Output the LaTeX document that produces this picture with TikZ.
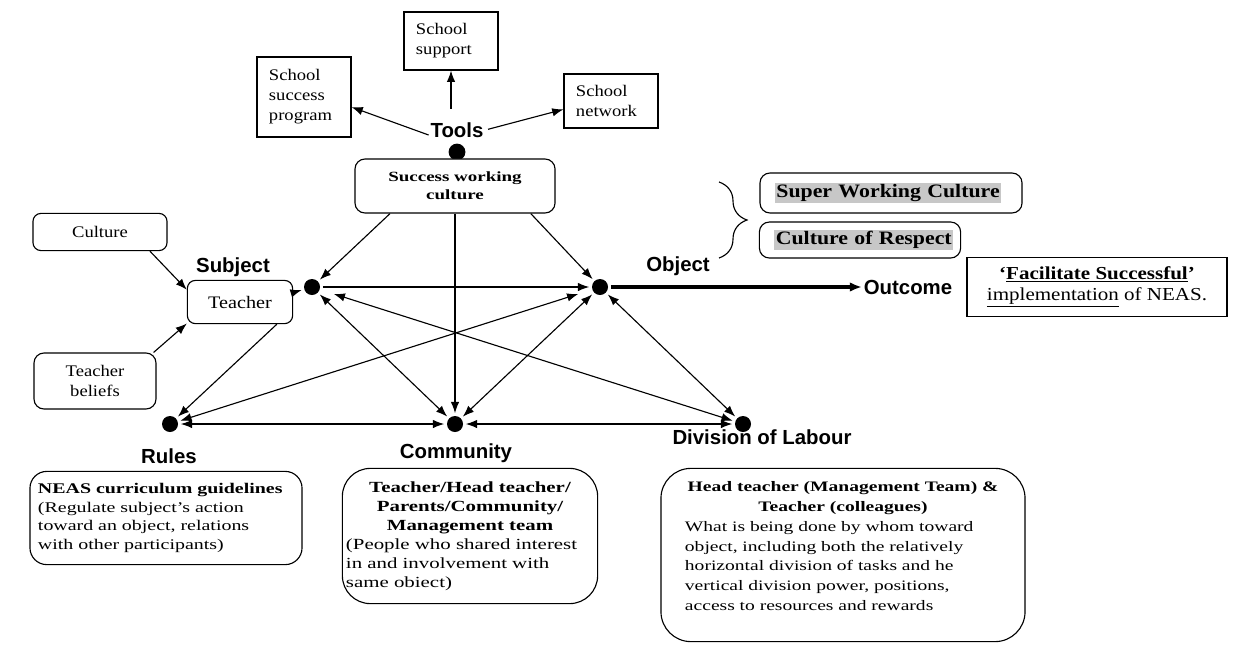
\documentclass[tikz,border=0pt]{standalone}
\usepackage{fontspec}
\setmainfont{Liberation Serif}[FakeStretch=1.15]
\setsansfont{Liberation Sans}
\newfontfamily\widefont{Liberation Serif}[FakeStretch=1.35]
\usetikzlibrary{arrows.meta,decorations.pathreplacing}

\begin{document}
\begin{tikzpicture}[x=0.025cm, y=-0.025cm,
line width=0.8pt,
>={Latex[length=0.28cm,width=0.21cm]},
    B/.style = {rectangle, draw, rounded corners=0.25cm, fill=white},% rounded boxes
    Q/.style = {rectangle, draw, fill=white},% square boxes
    P/.style = {Q, text width=1.75cm, inner xsep=0.3cm, align=left,
                font=\fontsize{11.5}{14.2}\selectfont},% tool boxes on top
    L/.style = {font=\sffamily\bfseries\fontsize{14.5}{16}\selectfont,
                inner sep=1pt},% names of the corners
    D/.style = {circle, fill, inner sep=0pt, minimum size=0.4cm,
                outer sep=2pt},% dots of the triangle
                        ]
\useasboundingbox (0,0) rectangle (1256,645);
%% dots
\foreach \n/\x/\y in {S/312/287, O/600/287, R/170/424, C/455/424, D/743/424}% <-- corners
    \node[D] (\n) at (\x,\y) {};
\node[D, minimum size=0.42cm] (TD) at (457,152) {};
%% tools
\node[L] (T) at (457,130) {Tools};
\node[P, minimum height=2cm] (SSP) at (304,97) {School\\success\\program};
\node[P, minimum height=1.45cm] (SS) at (451,41) {School\\support};
\node[P, minimum height=1.35cm] (SN) at (611,101) {School\\network};
\node[B, minimum width=5cm, minimum height=1.35cm, align=center,
      font=\widefont\bfseries\fontsize{10}{13}\selectfont] (SW) at (455,186) {Success working\\culture};
%% subject
\node[L] (SL) at (233,267) {Subject};
\node[B, rounded corners=0.2cm, minimum width=2.63cm, minimum height=1.08cm,
      font=\fontsize{12.5}{15}\selectfont] (TB) at (240,302) {Teacher};
\node[B, rounded corners=0.2cm, minimum width=3.35cm, minimum height=0.93cm,
      font=\fontsize{11.5}{14}\selectfont] (CU) at (100,232) {Culture};
\node[B, rounded corners=0.25cm, minimum width=3.05cm, minimum height=1.4cm, align=center,
      font=\fontsize{11.5}{14}\selectfont] (TBf) at (95,381) {Teacher\\beliefs};
%% object and outcome
\node[L] (OL) at (678,266) {Object};
\node[L] (OC) at (908,287) {Outcome};
\node[B, minimum width=6.55cm, minimum height=1cm, text width=5.8cm, inner xsep=0.375cm,
      align=left, font=\bfseries\fontsize{13.5}{15}\selectfont] (SUP) at (891,193)
      {\setlength\fboxsep{1pt}\colorbox{black!22}{Super Working Culture}};
\node[B, minimum width=5.03cm, minimum height=0.9cm, text width=4.28cm, inner xsep=0.375cm,
      align=left, font=\bfseries\fontsize{13.5}{15}\selectfont] (CR) at (860,240)
      {\setlength\fboxsep{1pt}\colorbox{black!22}{Culture of Respect}};
\draw[decorate, decoration={brace, amplitude=0.7cm}] (719,182) -- (719,258);
\node[Q, minimum width=6.5cm, minimum height=1.48cm, align=center,
      font=\fontsize{13}{15}\selectfont] (FB) at (1097,287)
      {\textbf{‘\underline{Facilitate Successful}’}\\\underline{implementation} of NEAS.};
%% rules, community, division of labour
\node[L] (RL) at (169,456) {Rules};
\node[B, rounded corners=0.42cm, minimum width=6.8cm, minimum height=2.33cm,
      text width=6.4cm, inner xsep=0.2cm, align=left,
      font=\widefont\fontsize{10.5}{13.2}\selectfont] (RB) at (166,518)
      {\textbf{NEAS curriculum guidelines}\\(Regulate subject’s action\\toward an object, relations\\with other participants)};
\node[L] (CL) at (456,453) {Community};
\node[B, rounded corners=0.7cm, minimum width=6.38cm, minimum height=3.38cm,
      text width=6.2cm, inner xsep=0.09cm, align=left,
      font=\widefont\fontsize{11}{13.5}\selectfont] (CB) at (470,536)
      {{\centering\bfseries Teacher/Head teacher/\\Parents/Community/\\Management team\par}
       (People who shared interest\\in and involvement with\\same obiect)};
\node[L] (DL) at (762,437) {Division of Labour};
\node[B, rounded corners=0.75cm, minimum width=9.1cm, minimum height=4.33cm] (DB) at (843,555) {};
\node[text width=7.9cm, align=left, anchor=north,
      font=\widefont\fontsize{10.3}{14.2}\selectfont] (DT) at ([yshift=-0.2cm]DB.north)
      {{\centering\bfseries Head teacher (Management Team) \&\\Teacher (colleagues)\par}
       What is being done by whom toward\\object, including both the relatively\\
       horizontal division of tasks and he\\vertical division power, positions,\\
       access to resources and rewards};
%% connectors
\coordinate (t1) at ([yshift=0.3cm]T.north -| SS.south);
\draw[->] (T.190) -- (SSP.-12);
\draw[->] (t1) -- (SS.south);
\draw[->, shorten <=2pt] (T.east) -- (SN.190);
\draw[->] (SW.-157) -- (S);
\draw[->] (SW.-20) -- (O);
\draw[->] (SW.south) -- (C);
\draw[->] (S) -- (O);
\foreach \a/\b in {S/C, O/C, O/D, R/C, C/D}% <-- both ways
    \draw[<->] (\a) -- (\b);
\draw[<->, shorten >=0.3cm] (D) -- (S);
\draw[<->, shorten >=0.3cm] (R) -- (O);
\draw[->] (TB.10) -- (S);
\draw[->] (TB.-31) -- (R);
\draw[->] (CU.-21) -- (TB.167);
\draw[->] (TBf.26) -- (TB.-158);
\draw[->, line width=2.2pt, >={Latex[length=0.3cm,width=0.24cm]}] (O) -- (OC.west);
\end{tikzpicture}
\end{document}
